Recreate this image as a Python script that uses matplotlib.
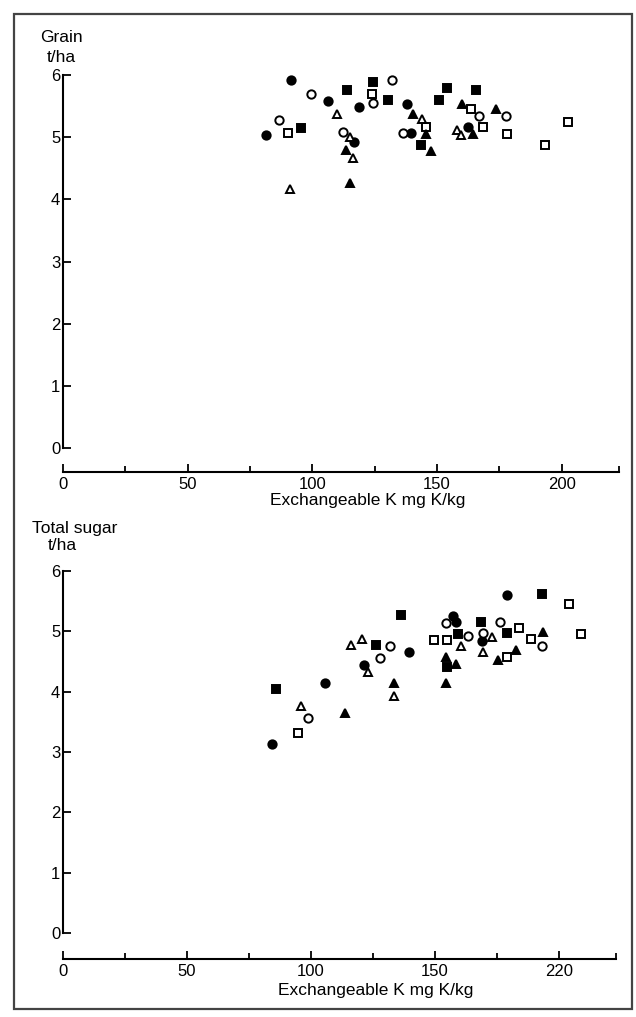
import matplotlib
matplotlib.use("Agg")
import matplotlib.pyplot as plt
from matplotlib.patches import Rectangle

plt.rcParams['font.family'] = ['Liberation Sans', 'DejaVu Sans']

# ---------------- data: Grain yield (t/ha) vs exchangeable K (mg K/kg) ----------------
grain_fc_x = [81.6, 91.3, 106.3, 116.8, 118.6, 138.0, 139.7, 162.6]
grain_fc_y = [5.03, 5.92, 5.58, 4.93, 5.48, 5.54, 5.06, 5.16]
grain_oc_x = [86.7, 99.5, 112.4, 124.4, 131.9, 136.4, 166.9, 177.8]
grain_oc_y = [5.27, 5.69, 5.08, 5.55, 5.92, 5.06, 5.34, 5.34]
grain_os_x = [90.3, 124.0, 145.4, 163.8, 168.5, 178.2, 193.2, 202.5]
grain_os_y = [5.06, 5.69, 5.16, 5.46, 5.17, 5.05, 4.88, 5.25]
grain_fs_x = [95.4, 114.0, 124.4, 130.4, 143.4, 150.8, 154.0, 165.8]
grain_fs_y = [5.14, 5.76, 5.89, 5.60, 4.87, 5.60, 5.79, 5.76]
grain_ot_x = [91.0, 109.7, 115.0, 116.4, 144.0, 158.0, 159.8]
grain_ot_y = [4.17, 5.38, 5.00, 4.66, 5.30, 5.11, 5.03]
grain_ft_x = [113.4, 115.0, 140.4, 145.4, 147.5, 160.2, 164.5, 173.8]
grain_ft_y = [4.79, 4.26, 5.38, 5.05, 4.77, 5.54, 5.05, 5.46]

# ---------------- data: Total sugar (t/ha) vs exchangeable K ----------------
sugar_fc_x = [84.1, 105.6, 121.5, 139.6, 157.1, 158.5, 168.8, 179.0]
sugar_fc_y = [3.14, 4.15, 4.45, 4.65, 5.26, 5.16, 4.84, 5.60]
sugar_oc_x = [98.9, 127.8, 131.9, 154.4, 163.2, 169.2, 176.2, 193.0]
sugar_oc_y = [3.56, 4.55, 4.76, 5.14, 4.92, 4.98, 5.16, 4.76]
sugar_os_x = [94.9, 149.6, 154.7, 178.9, 184.0, 188.7, 204.0, 208.7]
sugar_os_y = [3.31, 4.85, 4.85, 4.57, 5.05, 4.87, 5.45, 4.95]
sugar_fs_x = [85.8, 126.2, 136.3, 154.7, 159.2, 168.5, 178.9, 193.0]
sugar_fs_y = [4.04, 4.78, 5.27, 4.41, 4.96, 5.16, 4.98, 5.62]
sugar_ot_x = [96.0, 116.1, 120.7, 123.1, 133.6, 160.5, 169.5, 173.1]
sugar_ot_y = [3.76, 4.78, 4.87, 4.33, 3.93, 4.75, 4.65, 4.91]
sugar_ft_x = [113.7, 133.6, 154.3, 154.3, 158.3, 175.3, 182.5, 193.7]
sugar_ft_y = [3.65, 4.15, 4.58, 4.15, 4.46, 4.53, 4.69, 4.99]

x_major = [0, 50, 100, 150, 200]
x_minor = [25, 75, 125, 175, 223]
top_xlabels = ['0', '50', '100', '150', '200']
bottom_xlabels = ['0', '50', '100', '150', '220']
y_ticks = [0, 1, 2, 3, 4, 5, 6]
x_label = 'Exchangeable K mg K/kg'

W, H = 636, 1017
fig = plt.figure(figsize=(W / 100, H / 100), dpi=100)
fig.patch.set_facecolor('white')

def fx(px):
    return px / W

def fy(py):
    return 1 - py / H

def style_axes(ax, outward_px, xlabels):
    for s in ('top', 'right'):
        ax.spines[s].set_visible(False)
    ax.spines['left'].set_bounds(0, 6)
    ax.spines['bottom'].set_bounds(0, 223)
    ax.spines['bottom'].set_position(('outward', outward_px * 0.72))
    for s in ('left', 'bottom'):
        ax.spines[s].set_linewidth(1.5)
    ax.set_xlim(0, 225)
    ax.set_ylim(0, 6)
    ax.set_xticks(x_major)
    ax.set_xticklabels(xlabels)
    ax.set_xticks(x_minor, minor=True)
    ax.set_yticks(y_ticks)
    ax.tick_params(axis='x', which='major', direction='in', length=5.5, width=1.3,
                   pad=3.5, labelsize=12)
    ax.tick_params(axis='x', which='minor', direction='in', length=4, width=1.3)
    ax.tick_params(axis='y', which='major', direction='in', length=6, width=1.3,
                   pad=2, labelsize=12)
    ax.set_facecolor('none')

def plot_series(ax, groups):
    for xs, ys, marker, filled, ms in groups:
        ax.plot(xs, ys, linestyle='none', marker=marker, markersize=ms,
                markerfacecolor='black' if filled else 'white',
                markeredgecolor='black', markeredgewidth=1.4, clip_on=False)

# ---- top panel ----
ax1 = fig.add_axes([fx(63), fy(448), fx(624) - fx(63), (448 - 75) / H])
style_axes(ax1, 24, top_xlabels)
plot_series(ax1, [
    (grain_fc_x, grain_fc_y, 'o', True, 6.0),
    (grain_oc_x, grain_oc_y, 'o', False, 6.0),
    (grain_os_x, grain_os_y, 's', False, 5.6),
    (grain_fs_x, grain_fs_y, 's', True, 5.3),
    (grain_ot_x, grain_ot_y, '^', False, 6.0),
    (grain_ft_x, grain_ft_y, '^', True, 6.0),
])

# ---- bottom panel ----
ax2 = fig.add_axes([fx(63), fy(933), fx(621) - fx(63), (933 - 571) / H])
style_axes(ax2, 26, bottom_xlabels)
plot_series(ax2, [
    (sugar_fc_x, sugar_fc_y, 'o', True, 6.0),
    (sugar_oc_x, sugar_oc_y, 'o', False, 6.0),
    (sugar_os_x, sugar_os_y, 's', False, 5.6),
    (sugar_fs_x, sugar_fs_y, 's', True, 5.3),
    (sugar_ot_x, sugar_ot_y, '^', False, 6.0),
    (sugar_ft_x, sugar_ft_y, '^', True, 6.0),
])

# ---- texts ----
fs = 12.5
fig.text(fx(40), fy(37), 'Grain', ha='left', va='center', fontsize=fs)
fig.text(fx(47), fy(57), 't/ha', ha='left', va='center', fontsize=fs)
fig.text(fx(32), fy(529), 'Total sugar', ha='left', va='center', fontsize=fs)
fig.text(fx(48), fy(546), 't/ha', ha='left', va='center', fontsize=fs)
fig.text(fx(368), fy(500), x_label, ha='center', va='center', fontsize=fs)
fig.text(fx(376), fy(991), x_label, ha='center', va='center', fontsize=fs)

# ---- outer frame ----
fig.add_artist(Rectangle((fx(14), fy(1009)), fx(632) - fx(14), fy(14) - fy(1009),
                         transform=fig.transFigure, fill=False,
                         edgecolor='#444444', linewidth=1.6))

fig.savefig('out.png', dpi=100, facecolor='white')
